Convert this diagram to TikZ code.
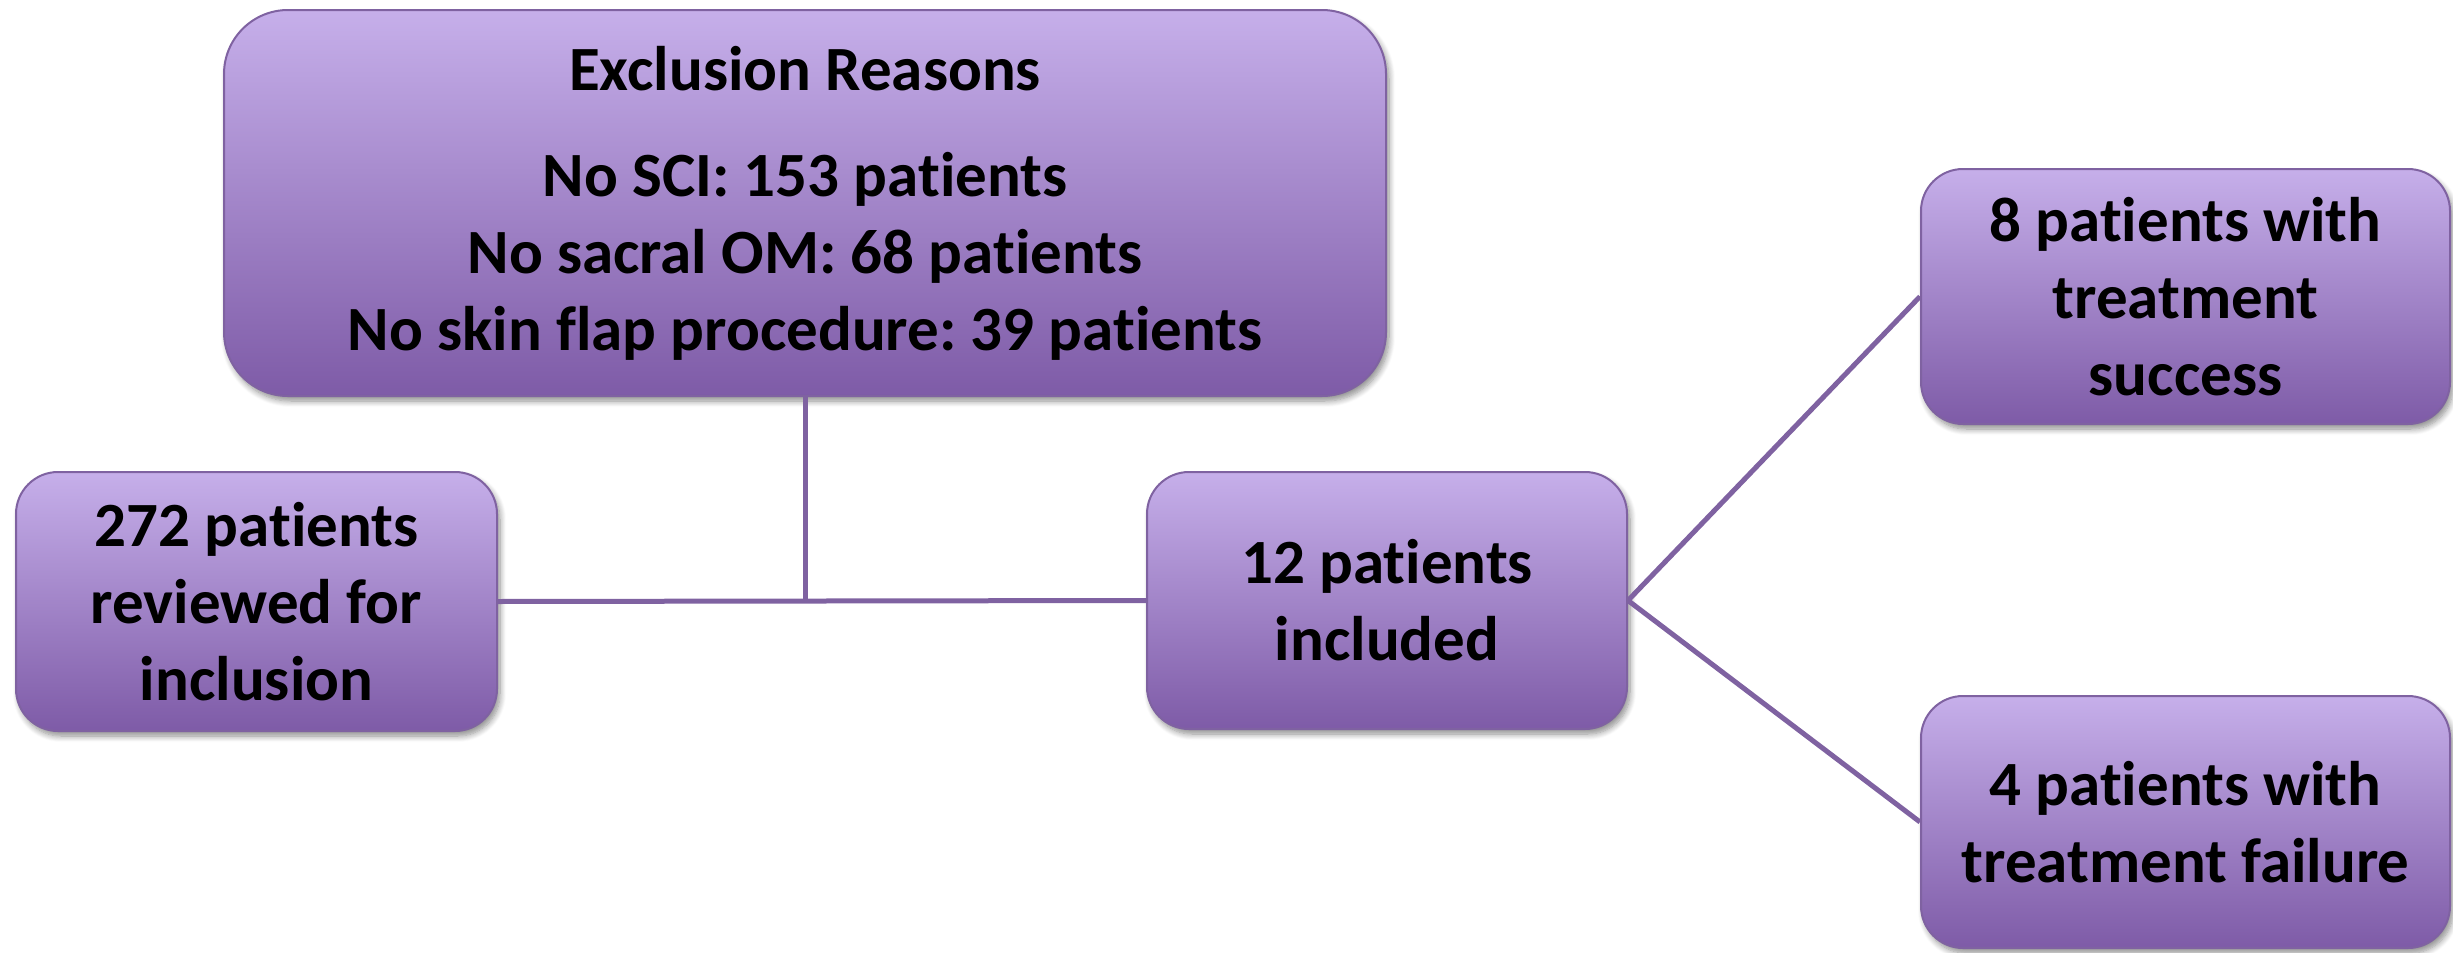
\documentclass[tikz,border=0pt]{standalone}
\usepackage{fontspec}
\setmainfont{Carlito}[Ligatures={NoCommon,NoRequired}]
\usetikzlibrary{shadows.blur}
\definecolor{ptop}{HTML}{C6AFEA}
\definecolor{pbot}{HTML}{7E5BA7}
\definecolor{pline}{HTML}{7F62A1}
\frenchspacing
\begin{document}
\begin{tikzpicture}[x=1pt,y=-1pt,
 box/.style={draw=pline, line width=2pt, rounded corners=42pt, top color=ptop, bottom color=pbot,
   blur shadow={shadow xshift=3pt, shadow yshift=-5pt, shadow blur steps=8, shadow blur radius=6pt, shadow opacity=45},
   align=center, font=\fontsize{63}{77}\selectfont\bfseries\frenchspacing, inner sep=0pt},
 conn/.style={draw=pline, line width=5pt}]
\useasboundingbox (0,0) rectangle (2453,953);
\node[box, rounded corners=64pt, minimum width=1162pt, minimum height=386pt] (excl) at (805,203)
  {Exclusion Reasons\\[29pt]No SCI: 153 patients\\No sacral OM: 68 patients\\No skin flap procedure: 39 patients};
\node[box, minimum width=481pt, minimum height=259pt] (rev) at (256.5,601.5) {272 patients\\reviewed for\\inclusion};
\node[box, minimum width=480pt, minimum height=257pt] (inc) at (1387,600.5) {12 patients\\included};
\node[box, minimum width=529pt, minimum height=255pt] (succ) at (2185.5,296.5) {8 patients with\\treatment\\success};
\node[box, minimum width=529pt, minimum height=252pt] (fail) at (2185.5,822) {4 patients with\\treatment failure};
\coordinate (j) at (excl.south |- rev.east);
\draw[conn] (excl.south) -- (j);
\draw[conn] (rev.east) -- (inc.west);
\draw[conn] (inc.east) -- (succ.west);
\draw[conn] (inc.east) -- (fail.west);
\end{tikzpicture}
\end{document}
